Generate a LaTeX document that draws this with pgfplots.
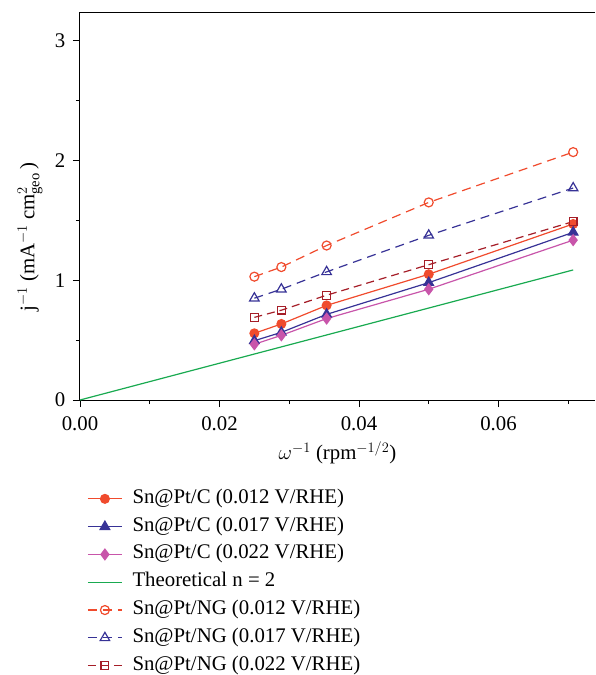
\documentclass[border=0pt]{standalone}
\usepackage{fontspec}
\setmainfont{Liberation Serif}
\usepackage{pgfplots}
\pgfplotsset{compat=1.18}

\definecolor{cred}{RGB}{240,75,45}
\definecolor{cblue}{RGB}{55,50,150}
\definecolor{cpink}{RGB}{200,85,170}
\definecolor{cgreen}{RGB}{25,170,80}
\definecolor{cdred}{RGB}{165,30,40}

\pgfplotstableread{
x       c012  c017  c022  ng012 ng017 ng022
0.02500 0.557 0.495 0.465 1.03  0.850 0.690
0.02887 0.635 0.565 0.540 1.11  0.925 0.750
0.03536 0.790 0.715 0.680 1.29  1.070 0.875
0.05000 1.050 0.980 0.925 1.65  1.375 1.130
0.07071 1.470 1.400 1.335 2.07  1.770 1.490
}\rde

\begin{document}
\fontsize{20.8}{24}\selectfont
\begin{tikzpicture}
\useasboundingbox (-80pt,-275pt) rectangle (515pt,400pt);
\begin{axis}[
  at={(0,0)},anchor=south west,
  scale only axis,width=515pt,height=388pt,
  xmin=0,xmax=0.07384,ymin=0,ymax=3.24,
  axis x line*=box,axis y line*=left,
  axis line style={line width=1pt},
  tick pos=left,tick align=outside,
  major tick length=7pt,minor tick length=4pt,
  tick style={line width=0.9pt,black},
  xtick={0,0.02,0.04,0.06},minor xtick={0.01,0.03,0.05,0.07},
  ytick={0,1,2,3},minor ytick={0.5,1.5,2.5},
  scaled x ticks=false,
  xticklabel style={/pgf/number format/fixed,/pgf/number format/fixed zerofill,/pgf/number format/precision=2,yshift=-3pt},
  yticklabel style={xshift=-0.5pt},
  /pgf/number format/assume math mode=true,
  xlabel={$\omega^{-1}$ (rpm$^{-1/2}$)},
  xlabel style={yshift=4pt},
  ylabel={j$^{-1}$ (mA$^{-1}$ cm$^{2}_{\mathrm{geo}}$\,)},
  ylabel style={at={(axis description cs:-0.097,0.42)},anchor=center},
  legend cell align=left,
  legend style={draw=none,fill=none,at={(axis description cs:0.008,-0.213)},anchor=north west,
    nodes={text height=14pt,text depth=5pt,inner ysep=4.5pt,inner xsep=5pt},
    row sep=-0.2pt,column sep=5pt},
  legend image code/.code={\draw[#1,mark=none] (0pt,0pt) -- (34pt,0pt);
    \draw[#1,solid] plot[only marks] coordinates {(17pt,0pt)};},
  every axis plot/.append style={line width=1.2pt},
]
\addplot[cred,mark=*,mark size=4.4pt,mark options={solid}] table[y=c012]{\rde};
\addlegendentry{Sn@Pt/C (0.012 V/RHE)}
\addplot[cblue,mark=triangle*,mark size=5.5pt,mark options={solid}] table[y=c017]{\rde};
\addlegendentry{Sn@Pt/C (0.017 V/RHE)}
\addplot[cpink,mark=diamond*,mark size=5.3pt,mark options={solid}] table[y=c022]{\rde};
\addlegendentry{Sn@Pt/C (0.022 V/RHE)}
\addplot[cgreen,line width=1.2pt,no marks] coordinates {(0,0) (0.07071,1.086)};
\addlegendentry{Theoretical n = 2}
\addplot[cred,dash pattern=on 9pt off 6pt,mark=o,mark size=4.5pt,mark options={solid,fill=white}] table[y=ng012]{\rde};
\addlegendentry{Sn@Pt/NG (0.012 V/RHE)}
\addplot[cblue,dash pattern=on 9pt off 6pt,mark=triangle,mark size=5.5pt,mark options={solid,fill=white}] table[y=ng017]{\rde};
\addlegendentry{Sn@Pt/NG (0.017 V/RHE)}
\addplot[cdred,dash pattern=on 8pt off 5pt,mark=square,mark size=3.9pt,mark options={solid,fill=white}] table[y=ng022]{\rde};
\addlegendentry{Sn@Pt/NG (0.022 V/RHE)}
\end{axis}
\end{tikzpicture}
\end{document}
